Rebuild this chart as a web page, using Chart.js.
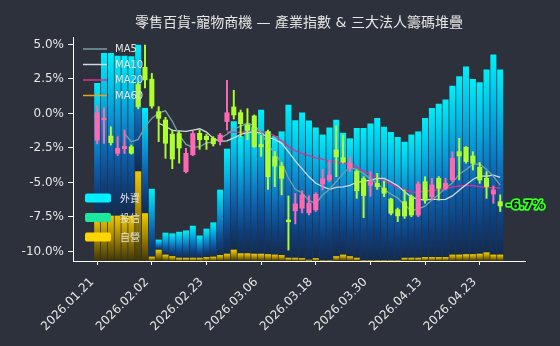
<!DOCTYPE html>
<html>
<head>
<meta charset="utf-8">
<script src="https://cdn.jsdelivr.net/npm/chart.js@4.4.1/dist/chart.umd.min.js"></script>
<style>
  html, body { margin: 0; padding: 0; background: #2c313b; }
  #wrap { width: 560px; height: 346px; }
</style>
</head>
<body>
<div id="wrap"><canvas id="c" width="560" height="346"></canvas></div>
<script>
// Trading days (one bar / candle each)
const dates = [
  '2026.01.21','2026.01.22','2026.01.23','2026.01.26','2026.01.27','2026.01.28','2026.01.29','2026.01.30',
  '2026.02.02','2026.02.03','2026.02.04','2026.02.05','2026.02.06','2026.02.09','2026.02.10','2026.02.11',
  '2026.02.23','2026.02.24','2026.02.25','2026.02.26','2026.03.02','2026.03.03','2026.03.04','2026.03.05',
  '2026.03.06','2026.03.09','2026.03.10','2026.03.11','2026.03.12','2026.03.13','2026.03.16','2026.03.17',
  '2026.03.18','2026.03.19','2026.03.20','2026.03.23','2026.03.24','2026.03.25','2026.03.26','2026.03.27',
  '2026.03.30','2026.03.31','2026.04.01','2026.04.02','2026.04.07','2026.04.08','2026.04.09','2026.04.10',
  '2026.04.13','2026.04.14','2026.04.15','2026.04.16','2026.04.17','2026.04.20','2026.04.21','2026.04.22',
  '2026.04.23','2026.04.24','2026.04.27','2026.04.28'
];
const xTickLabels = ['2026.01.21','2026.02.02','2026.02.23','2026.03.06','2026.03.18','2026.03.30','2026.04.13','2026.04.23'];
const yTickValues = [-10, -7.5, -5, -2.5, 0, 2.5, 5];

// Industry index, % change (OHLC)
const open = [-1.93,-0.45,-1.64,-2.89,-2.55,-2.42,2.10,3.35,2.48,0.13,
  -0.47,-1.50,-1.45,-4.22,-3.00,-1.44,-1.65,-1.80,-2.02,-0.59,
  0.47,0.06,-0.85,-0.18,-2.25,-1.32,-3.13,-3.82,-7.72,-7.05,
  -6.87,-7.20,-6.99,-5.10,-4.82,-2.65,-3.20,-3.95,-4.20,-4.72,
  -5.20,-5.06,-5.42,-6.20,-6.97,-6.39,-6.03,-7.36,-4.94,-6.03,
  -4.70,-5.42,-4.82,-2.77,-2.45,-3.08,-3.90,-4.70,-5.84,-6.39];
const high = [0.55,0.40,-0.97,-1.68,-1.20,-2.28,2.30,4.96,2.90,0.49,
  -0.28,-1.20,-1.30,-2.53,-1.30,-1.20,-1.50,-1.68,-1.44,2.40,
  1.68,0.25,0.35,-0.11,-1.60,-1.20,-2.75,-3.55,-5.98,-5.80,
  -5.60,-5.95,-5.74,-4.05,-3.42,-0.90,-1.56,-3.13,-4.10,-4.58,
  -4.22,-4.34,-4.90,-6.15,-6.85,-5.54,-5.90,-4.94,-4.58,-4.70,
  -4.58,-4.70,-2.77,-1.80,-2.40,-2.77,-3.56,-4.22,-5.25,-5.90];
const low = [-2.20,-2.17,-2.29,-3.05,-2.90,-2.95,0.35,1.85,0.38,-2.04,
  -3.25,-4.00,-3.60,-4.30,-3.05,-2.60,-2.60,-2.36,-2.28,-1.20,
  -0.40,-1.68,-1.90,-2.45,-3.10,-5.50,-5.30,-5.90,-9.90,-8.00,
  -7.20,-7.35,-7.10,-5.55,-4.94,-4.58,-3.60,-4.22,-6.15,-7.55,
  -6.00,-5.50,-6.03,-7.35,-7.84,-7.60,-7.48,-7.48,-6.51,-6.27,
  -6.27,-5.54,-4.94,-4.82,-3.61,-4.10,-5.06,-6.15,-6.51,-7.10];
const close = [0.05,-0.35,-2.12,-2.52,-2.38,-2.88,0.50,2.43,0.54,-0.35,
  -2.16,-3.30,-2.50,-2.89,-1.45,-1.90,-1.90,-2.20,-1.56,0.05,
  -0.11,-0.74,-1.20,-2.40,-2.42,-4.58,-3.82,-4.70,-7.85,-6.55,
  -5.90,-6.50,-5.86,-4.73,-4.46,-3.13,-3.52,-3.60,-5.60,-5.95,
  -4.94,-5.30,-5.78,-7.23,-7.42,-7.43,-7.36,-5.11,-6.27,-5.18,
  -5.42,-5.06,-3.25,-3.08,-3.49,-3.61,-4.82,-5.30,-5.54,-6.70];

// Institutional holdings, stacked (relative units)
const instNames = ['外資', '投信', '自營'];
const foreign = [60.1,72.6,72.6,71.4,71.4,71.2,56.5,47.0,30.3,4.5,
  9.8,10.2,11.6,12.2,14.3,9.9,12.7,15.3,29.2,46.9,
  57.3,52.3,57.9,56.5,64.3,54.8,52.9,55.2,68.3,61.4,
  65.1,62.2,58.4,56.1,59.3,60.9,54.4,52.6,57.9,59.0,
  61.0,63.5,59.6,57.2,55.0,51.8,55.0,56.4,62.1,66.6,
  68.5,70.3,75.4,79.6,83.8,78.2,76.5,81.6,89.3,82.6];
const trust = [0,0,0,0,0,0,0,0,0,0, 0,0,0,0,0,0,0,0,0,0,
  0,0,0,0,0,0,0,0,0,0, 0,0,0,0,0,0,0,0,0,0,
  0,0,0,0,0,0,0,0,0,0, 0,0,0,0,0,0,0,0,0,0];
const dealer = [19.2,20.1,20.1,20.1,20.1,20.1,39.9,21.2,1.8,4.9,
  2.7,2.0,1.3,1.3,1.3,1.3,1.6,1.8,2.5,3.1,
  4.9,3.3,3.3,3.1,3.1,2.9,2.7,2.5,1.3,1.3,
  1.1,0.4,1.1,0.2,0.2,2.0,2.7,2.0,1.3,0.2,
  0.2,0.2,0.2,0.2,0.2,1.3,1.3,1.3,1.6,1.6,
  1.6,1.6,2.7,2.7,2.9,2.9,3.1,3.7,2.7,2.7];

const maNames = ['MA5', 'MA10', 'MA20', 'MA60'];
const maPeriods = [5, 10, 20, 60];
const maColors = ['#78a0a6', '#d3d9e3', '#de2f95', '#eea21e'];

const UP = '#ff69b4', DOWN = '#adff2f';
const TXT = '#e6e6e6';

// simple moving average of the closes
function sma(values, n) {
  return values.map((_, i) => {
    if (i < n - 1) return null;
    let s = 0;
    for (let k = i - n + 1; k <= i; k++) s += values[k];
    return s / n;
  });
}

const xy = (arr) => arr.map((v, i) => ({ x: i, y: v }));
const candleColor = close.map((c, i) => (c >= open[i] ? UP : DOWN));

// stacked segments, bottom to top
const segments = [dealer, trust, foreign];
const segStops = [
  [[0, '#f0c800'], [0.45, '#a88900'], [1, '#3f3507']],
  [[0, '#1ee8a0'], [1, '#0b4a3a']],
  [[0, '#00eef8'], [0.2, '#00c3ea'], [0.42, '#0a8cd0'], [0.62, '#0c60ac'], [0.82, '#0d3f7e'], [1, '#122b50']]
];
function segmentFill(seg) {
  return (ctx) => {
    const stops = segStops[seg];
    const chart = ctx.chart;
    if (ctx.type !== 'data' || !chart.chartArea || !chart.scales.yBar) return stops[0][1];
    const i = ctx.dataIndex;
    let base = 0;
    for (let k = 0; k < seg; k++) base += segments[k][i];
    const top = base + segments[seg][i];
    const yTop = chart.scales.yBar.getPixelForValue(top);
    const yBot = chart.scales.yBar.getPixelForValue(base);
    if (!(yBot - yTop > 0.5)) return stops[Math.floor(stops.length / 2)][1];
    const g = chart.ctx.createLinearGradient(0, yTop, 0, yBot);
    stops.forEach(([o, c]) => g.addColorStop(o, c));
    return g;
  };
}

const datasets = [];
// candles (front)
datasets.push({
  type: 'bar', label: 'body', yAxisID: 'y', order: 0, grouped: false,
  data: open.map((o, i) => ({ x: i, y: [o, close[i]] })),
  backgroundColor: candleColor, borderWidth: 0, barThickness: 4.4, minBarLength: 1
});
datasets.push({
  type: 'bar', label: 'wick', yAxisID: 'y', order: 1, grouped: false,
  data: low.map((l, i) => ({ x: i, y: [l, high[i]] })),
  backgroundColor: candleColor, borderWidth: 0, barThickness: 1.3
});
// moving averages
maPeriods.forEach((n, k) => {
  datasets.push({
    type: 'line', label: maNames[k], yAxisID: 'y', order: 2 + k,
    data: xy(sma(close, n)), borderColor: maColors[k], borderWidth: 1.3,
    pointRadius: 0, tension: 0, fill: false, spanGaps: false
  });
});
// institutional stack (back)
segments.forEach((arr, seg) => {
  datasets.push({
    type: 'bar', label: instNames[[2, 1, 0][seg]], yAxisID: 'yBar', stack: 'inst',
    order: 10 + seg, grouped: false,
    data: xy(arr), backgroundColor: segmentFill(seg), borderWidth: 0, barThickness: 5.4
  });
});

const instBoxColors = ['#00f0ff', '#1be89c', '#ffd400'];

const overlay = {
  id: 'overlay',
  afterDatasetsDraw(chart) {
    const { ctx, chartArea, scales } = chart;
    ctx.save();
    // MA legend
    ctx.font = '10px "DejaVu Sans"';
    ctx.textBaseline = 'middle';
    ctx.textAlign = 'left';
    maNames.forEach((name, k) => {
      const y = 49 + k * 15.5;
      ctx.strokeStyle = maColors[k];
      ctx.lineWidth = 1.5;
      ctx.beginPath();
      ctx.moveTo(chartArea.left + 10, y);
      ctx.lineTo(chartArea.left + 34, y);
      ctx.stroke();
      ctx.fillStyle = TXT;
      ctx.fillText(name, chartArea.left + 42, y + 0.5);
    });
    // institutional legend
    ctx.font = '10px "Noto Sans CJK TC", "DejaVu Sans"';
    instNames.forEach((name, k) => {
      const y = 198 + k * 19.5;
      ctx.fillStyle = instBoxColors[k];
      ctx.beginPath();
      ctx.roundRect(chartArea.left + 12, y - 4.5, 26, 9, 2);
      ctx.fill();
      ctx.fillStyle = TXT;
      ctx.fillText(name, chartArea.left + 47, y + 0.5);
    });
    // last close label
    const last = close.length - 1;
    const lx = scales.x.getPixelForValue(last) + 6;
    const ly = scales.y.getPixelForValue(close[last]);
    const txt = close[last].toFixed(1) + '%';
    ctx.font = 'bold 12px "DejaVu Sans"';
    ctx.lineJoin = 'round';
    ctx.lineWidth = 3.5;
    ctx.strokeStyle = '#33ff22';
    ctx.strokeText(txt, lx, ly);
    ctx.fillStyle = '#0b0b0b';
    ctx.fillText(txt, lx, ly);
    ctx.restore();
  },
  afterDraw(chart) {
    const { ctx, chartArea } = chart;
    ctx.save();
    ctx.font = '14px "DejaVu Sans", "Noto Sans CJK TC"';
    ctx.fillStyle = TXT;
    ctx.textAlign = 'center';
    ctx.textBaseline = 'middle';
    ctx.fillText('零售百貨-寵物商機 — 產業指數 & 三大法人籌碼堆疊', (chartArea.left + chartArea.right) / 2, 23);
    ctx.restore();
  }
};

Chart.defaults.font.family = '"DejaVu Sans"';
Chart.defaults.color = TXT;

new Chart(document.getElementById('c'), {
  data: { datasets },
  options: {
    responsive: false, animation: false, devicePixelRatio: 1, events: [],
    layout: { padding: { top: 37, right: 35, left: 0, bottom: 0 } },
    plugins: { legend: { display: false }, title: { display: false }, tooltip: { enabled: false } },
    scales: {
      x: {
        type: 'linear', min: -3.54, max: 62.63, stacked: true, offset: false,
        afterBuildTicks: (s) => { s.ticks = xTickLabels.map((d) => ({ value: dates.indexOf(d) })); },
        afterFit: (s) => { s.height = 85; },
        ticks: { autoSkip: false, maxRotation: 45, minRotation: 45, color: TXT, font: { size: 12 },
                 padding: 10, labelOffset: -5, callback: (v) => dates[v] },
        grid: { display: true, offset: false, drawOnChartArea: false, drawTicks: true, tickLength: 4, color: '#ffffff' },
        border: { display: true, color: '#ffffff', width: 1, z: 1 }
      },
      y: {
        type: 'linear', position: 'left', min: -10.69, max: 5.54, stacked: false,
        afterBuildTicks: (s) => { s.ticks = yTickValues.map((v) => ({ value: v })); },
        afterFit: (s) => { s.width = 73; },
        ticks: { color: TXT, font: { size: 12 }, padding: 4, callback: (v) => Number(v).toFixed(1) + '%' },
        grid: { display: true, drawOnChartArea: false, drawTicks: true, tickLength: 5, color: '#ffffff' },
        border: { display: true, color: '#ffffff', width: 1, z: 1 }
      },
      yBar: { type: 'linear', display: false, min: 0, max: 100, stacked: true }
    }
  },
  plugins: [overlay]
});
</script>
</body>
</html>
